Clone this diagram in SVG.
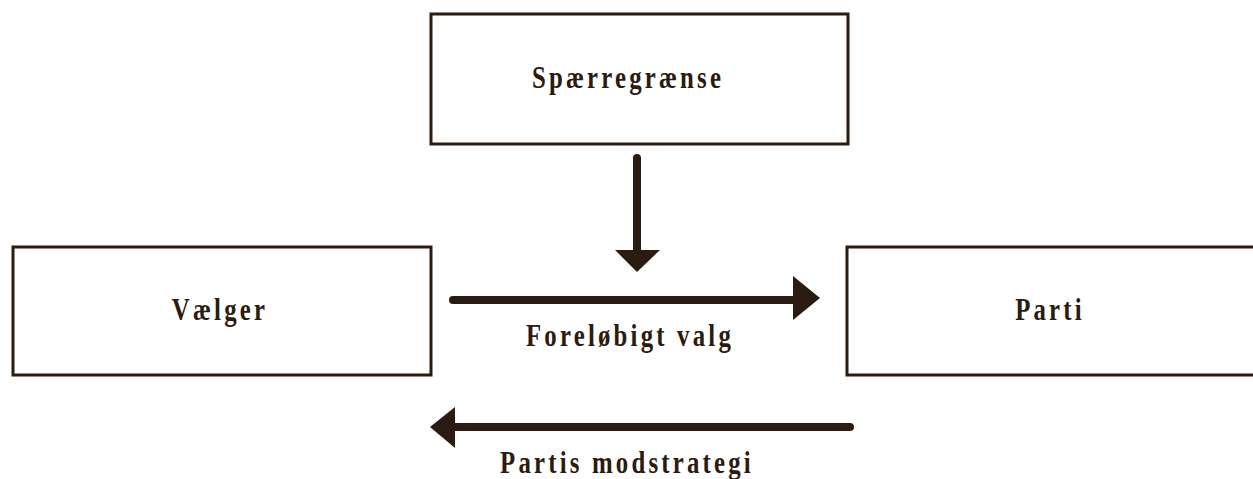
<svg xmlns="http://www.w3.org/2000/svg" width="1253" height="479" viewBox="0 0 1253 479">
<style>
.box{fill:#fff;stroke:#2b1b10;stroke-width:3}
.t{font-family:"Liberation Serif",serif;font-weight:bold;font-size:31px;fill:#2b1b10;text-anchor:middle;letter-spacing:4px}
.ln{stroke:#2b1b10;stroke-width:8;stroke-linecap:round;fill:none}
.hd{fill:#2b1b10}
</style>
<rect width="1253" height="479" fill="#fff"/>
<g id="sparregraense"><rect class="box" x="431" y="14" width="417" height="130"/><text class="t" transform="translate(628,88) scale(0.8,1)">Spærregrænse</text></g>
<g id="vaelger"><rect class="box" x="13" y="247" width="418" height="128"/><text class="t" transform="translate(220,320) scale(0.8,1)">Vælger</text></g>
<g id="parti"><rect class="box" x="847" y="247" width="410" height="128"/><text class="t" transform="translate(1050,320) scale(0.8,1)">Parti</text></g>
<g id="connectors">
<line class="ln" x1="637" y1="158" x2="637" y2="252"/>
<polygon class="hd" points="615,250 660,250 637,272"/>
<line class="ln" x1="453" y1="300" x2="796" y2="300"/>
<polygon class="hd" points="793,276 820,298 793,320"/>
<line class="ln" x1="850" y1="427" x2="452" y2="427"/>
<polygon class="hd" points="455,407 430,427 455,448"/>
<text class="t" transform="translate(630,346) scale(0.8,1)">Foreløbigt valg</text>
<text class="t" transform="translate(627,473) scale(0.8,1)">Partis modstrategi</text>
</g>
</svg>
